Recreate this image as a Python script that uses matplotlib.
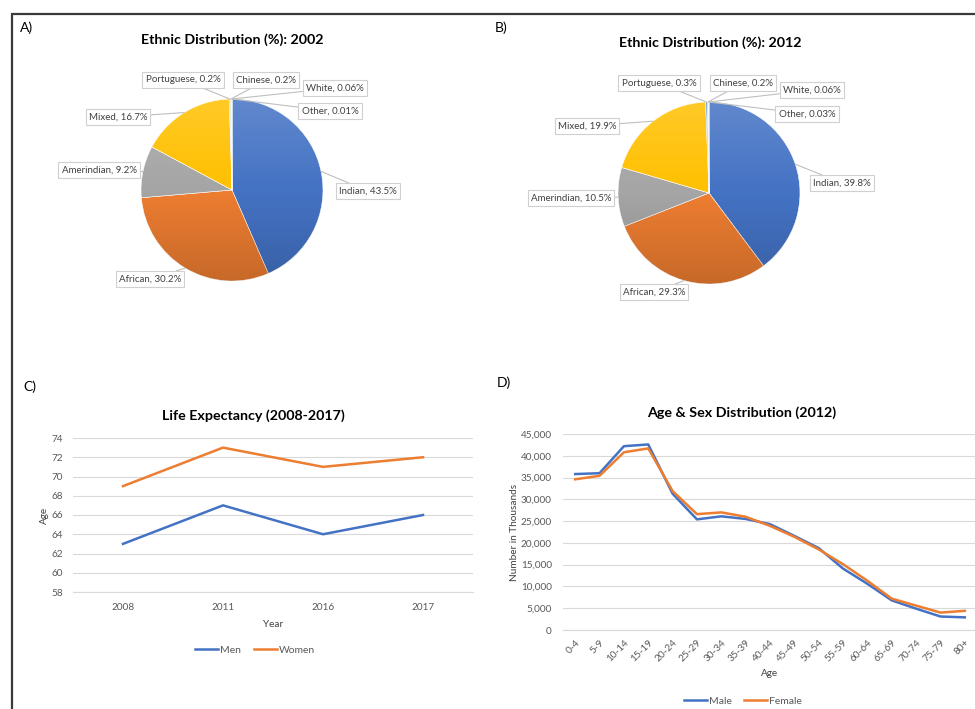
import numpy as np
import matplotlib
matplotlib.use("Agg")
import matplotlib.pyplot as plt
from matplotlib.patches import Circle
from matplotlib.ticker import FuncFormatter, MultipleLocator

W, H = 975, 709

plt.rcParams["font.family"] = ["Lato", "DejaVu Sans"]

# ethnic groups and census shares (%)
groups = ["Indian", "African", "Amerindian", "Mixed",
          "Portuguese", "Chinese", "White", "Other"]
share_2002 = [43.5, 30.2, 9.2, 16.7, 0.2, 0.2, 0.06, 0.01]
share_2012 = [39.8, 29.3, 10.5, 19.9, 0.3, 0.2, 0.06, 0.03]
group_colors = ["#4472C4", "#ED7D31", "#A5A5A5", "#FFC000",
                "#5B9BD5", "#70AD47", "#264478", "#9E480E"]

# life expectancy by year
years = ["2008", "2011", "2016", "2017"]
life_men = [63, 67, 64, 66]
life_women = [69, 73, 71, 72]

# population by age group, 2012 (thousands)
age_groups = ["0-4", "5-9", "10-14", "15-19", "20-24", "25-29", "30-34",
              "35-39", "40-44", "45-49", "50-54", "55-59", "60-64",
              "65-69", "70-74", "75-79", "80+"]
male = [35800, 36000, 42200, 42600, 31300, 25400, 26100, 25500, 24300,
        21600, 18800, 14100, 10600, 6800, 4900, 3100, 2900]
female = [34600, 35400, 40800, 41700, 31900, 26600, 27000, 26000, 23900,
          21400, 18500, 15100, 11300, 7200, 5600, 4000, 4400]

BLUE = "#4472C4"
ORANGE = "#ED7D31"
GREY_TXT = "#595959"
GRID = "#D9D9D9"

# label box centres (pixels from top-left) for each pie
labels_a = [(368, 191), (150, 279), (99, 170), (118, 117),
            (183, 80), (266, 80), (335, 88), (330, 111)]
labels_b = [(842, 183), (654, 292), (571, 198), (587, 126),
            (659, 83), (743, 83), (812, 90), (807, 114)]


def fig_rect(x0, y0, x1, y1):
    """pixel box (top-left origin) -> figure fraction rect"""
    return [x0 / W, (H - y1) / H, (x1 - x0) / W, (y1 - y0) / H]


def draw_pie(ax, values, cx, cy, r, label_pos):
    cy = H - cy
    wedges, _ = ax.pie(values, colors=group_colors, startangle=90,
                       counterclock=False, center=(cx, cy), radius=r,
                       wedgeprops=dict(edgecolor="white", linewidth=0.4))

    # soft vertical shading over the whole pie
    t = np.linspace(0, 1, 256)[:, None]
    shade = np.zeros((256, 1, 4))
    shade[..., :3] = np.where(t < 0.5, 1.0, 0.0)[..., None]
    shade[..., 3] = np.abs(t - 0.5) * 2 * 0.16
    im = ax.imshow(shade, extent=(cx - r, cx + r, cy - r, cy + r),
                   origin="upper", aspect="auto", zorder=3,
                   interpolation="bilinear")
    im.set_clip_path(Circle((cx, cy), r, transform=ax.transData))

    for w, name, v, (lx, ly) in zip(wedges, groups, values, label_pos):
        mid = np.deg2rad((w.theta1 + w.theta2) / 2)
        anchor = (cx + r * np.cos(mid), cy + r * np.sin(mid))
        ax.annotate(f"{name}, {v:g}%", xy=anchor, xytext=(lx, H - ly),
                    ha="center", va="center", fontsize=7, color="#404040",
                    zorder=5,
                    bbox=dict(boxstyle="square,pad=0.33", fc="white",
                              ec="#D0D0D0", lw=0.8),
                    arrowprops=dict(arrowstyle="-", color="#BFBFBF", lw=0.8,
                                    shrinkA=0, shrinkB=0))


fig = plt.figure(figsize=(W / 100, H / 100), dpi=100)

canvas = fig.add_axes([0, 0, 1, 1])
draw_pie(canvas, share_2002, 232, 190, 91, labels_a)
draw_pie(canvas, share_2012, 709, 193, 91, labels_b)
canvas.set_xlim(0, W)
canvas.set_ylim(0, H)
canvas.set_aspect("auto")
canvas.axis("off")

# frame around the panels
canvas.plot([12, 12, W], [0, H - 14, H - 14], color="#3A3A3A", lw=1.6,
            solid_joinstyle="miter")

title_kw = dict(fontsize=10.3, fontweight="bold", color="black",
                ha="center", va="center")
canvas.text(232, H - 40, "Ethnic Distribution (%): 2002", **title_kw)
canvas.text(710, H - 43, "Ethnic Distribution (%): 2012", **title_kw)
canvas.text(253, H - 416, "Life Expectancy (2008-2017)", **title_kw)
canvas.text(742, H - 413, "Age & Sex Distribution (2012)", **title_kw)

tag_kw = dict(fontsize=10, color="black", ha="left", va="center")
canvas.text(20, H - 28, "A)", **tag_kw)
canvas.text(495, H - 28, "B)", **tag_kw)
canvas.text(23, H - 387, "C)", **tag_kw)
canvas.text(497, H - 383, "D)", **tag_kw)


def style_axes(ax):
    for side in ["top", "right", "left"]:
        ax.spines[side].set_visible(False)
    ax.spines["bottom"].set_color(GRID)
    ax.spines["bottom"].set_linewidth(0.8)
    ax.grid(axis="y", color=GRID, lw=0.8)
    ax.set_axisbelow(True)
    ax.tick_params(length=0, labelsize=7.2, labelcolor=GREY_TXT)
    ax.patch.set_alpha(0)


# C) life expectancy
ax_c = fig.add_axes(fig_rect(73, 438, 473, 592))
x_c = np.arange(len(years))
ax_c.plot(x_c, life_men, color=BLUE, lw=1.8, label="Men")
ax_c.plot(x_c, life_women, color=ORANGE, lw=1.8, label="Women")
ax_c.set_xlim(-0.5, len(years) - 0.5)
ax_c.set_ylim(58, 74)
ax_c.yaxis.set_major_locator(MultipleLocator(2))
ax_c.set_xticks(x_c)
ax_c.set_xticklabels(years)
style_axes(ax_c)
ax_c.tick_params(axis="x", pad=8)
ax_c.tick_params(axis="y", pad=7)
ax_c.set_xlabel("Year", fontsize=7.2, color="#404040", labelpad=6)
ax_c.set_ylabel("Age", fontsize=7.2, color="#404040", labelpad=2)
ax_c.legend(loc="center", bbox_to_anchor=(255 / W, (H - 650) / H),
            bbox_transform=fig.transFigure, ncol=2, frameon=False,
            fontsize=7.5, handlelength=2.2, handletextpad=0.2,
            columnspacing=1.2, labelcolor=GREY_TXT)

# D) age and sex distribution
ax_d = fig.add_axes(fig_rect(563, 434, 977, 630))
x_d = np.arange(len(age_groups))
ax_d.plot(x_d, male, color=BLUE, lw=1.8, label="Male")
ax_d.plot(x_d, female, color=ORANGE, lw=1.8, label="Female")
ax_d.set_xlim(-0.5, len(age_groups) - 0.5)
ax_d.set_ylim(0, 45000)
ax_d.yaxis.set_major_locator(MultipleLocator(5000))
ax_d.yaxis.set_major_formatter(FuncFormatter(lambda v, _: f"{v:,.0f}"))
ax_d.set_xticks(x_d)
ax_d.set_xticklabels(age_groups, rotation=45, ha="right",
                     rotation_mode="anchor")
style_axes(ax_d)
ax_d.tick_params(axis="x", pad=6)
ax_d.tick_params(axis="y", pad=8)
ax_d.set_xlabel("Age", fontsize=7.2, color="#404040", labelpad=4)
ax_d.set_ylabel("Number in Thousands", fontsize=7.2, color="#404040",
                labelpad=1)
ax_d.legend(loc="center", bbox_to_anchor=(743 / W, (H - 701) / H),
            bbox_transform=fig.transFigure, ncol=2, frameon=False,
            fontsize=7.5, handlelength=2.2, handletextpad=0.2,
            columnspacing=1.2, labelcolor=GREY_TXT)

fig.savefig("out.png", dpi=100)
